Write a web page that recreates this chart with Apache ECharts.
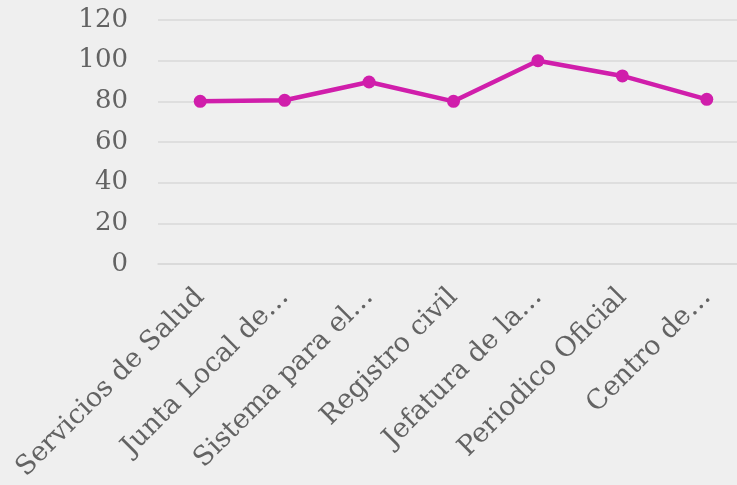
<!DOCTYPE html>
<html>
<head>
<meta charset="utf-8">
<script src="https://cdn.jsdelivr.net/npm/echarts@6/dist/echarts.min.js"></script>
<style>
  html, body { margin: 0; padding: 0; background: #efefef; }
  #chart { width: 737px; height: 485px; }
</style>
</head>
<body>
<div id="chart"></div>
<script>
// datos
var categorias = ["Servicios de Salud", "Junta Local de…", "Sistema para el…", "Registro civil", "Jefatura de la…", "Periodico Oficial", "Centro de…"];
var valores = [80, 80.5, 89.5, 80, 100, 92.5, 81];
var ejeY = { min: 0, max: 120, interval: 20 };

var chart = echarts.init(document.getElementById("chart"));
var option = {
  backgroundColor: "#efefef",
  textStyle: { fontFamily: "DejaVu Serif" },
  grid: {
    left: 158,
    top: 20,
    width: 591,
    height: 244,
    outerBoundsMode: "none",
    containLabel: false
  },
  xAxis: {
    type: "category",
    data: categorias,
    boundaryGap: true,
    axisLine: { show: true, lineStyle: { color: "#d9d9d9", width: 1.5 } },
    axisTick: { show: false },
    axisLabel: {
      rotate: 45,
      interval: 0,
      margin: 29,
      color: "#636363",
      fontSize: 27,
      fontFamily: "DejaVu Serif"
    }
  },
  yAxis: {
    type: "value",
    min: ejeY.min,
    max: ejeY.max,
    interval: ejeY.interval,
    axisLine: { show: false },
    axisTick: { show: false },
    splitLine: { lineStyle: { color: "#d9d9d9", width: 1.5 } },
    axisLabel: {
      margin: 30,
      color: "#636363",
      fontSize: 26,
      fontFamily: "DejaVu Serif"
    }
  },
  series: [
    {
      type: "line",
      data: valores,
      symbol: "circle",
      symbolSize: 13,
      lineStyle: { color: "#d01eab", width: 4.5 },
      itemStyle: { color: "#d01eab" },
      animation: false
    }
  ]
};
chart.setOption(option);
window.addEventListener("resize", function() {
  chart.resize();
});
</script>
</body>
</html>
